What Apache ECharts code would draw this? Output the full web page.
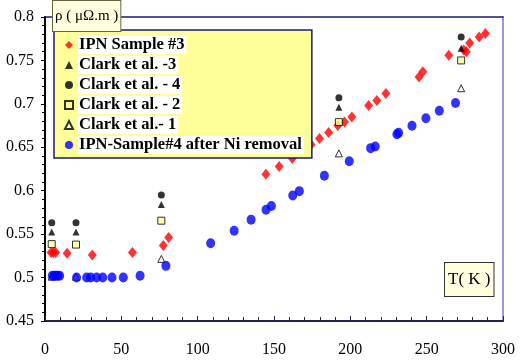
<!DOCTYPE html>
<html><head><meta charset="utf-8">
<script src="https://cdn.jsdelivr.net/npm/echarts@6/dist/echarts.min.js"></script>
<style>html,body{margin:0;padding:0;background:#fff}#c{width:524px;height:364px}</style>
</head><body><div id="c"></div>
<script>
// Series names
var seriesNames = ['IPN Sample #3', 'Clark et al. -3', 'Clark et al. - 4', 'Clark et al. - 2', 'Clark et al.- 1', 'IPN-Sample#4 after Ni removal'];
// IPN Sample #3 (red diamonds): [T, rho]
var ipn3 = [[4,0.529],[5.5,0.529],[7,0.529],[14.5,0.528],[31,0.526],[57.3,0.529],[77.5,0.537],[81,0.546],
  [144.7,0.619],[153.4,0.628],[162,0.637],[174.3,0.653],[179.8,0.66],[185.8,0.667],[191.8,0.675],[196.2,0.679],
  [201,0.685],[212,0.698],[217.4,0.704],[223.3,0.712],[245,0.731],[247.5,0.737],[264.5,0.756],[274.3,0.762],
  [276,0.760],[278.2,0.770],[284.4,0.777],[288.5,0.781]];
// Clark et al. series, at common temperatures
var clarkT = [4.4, 20.3, 76.2, 192.5, 272.6];
var clark3 = [0.5525, 0.5525, 0.584, 0.696, 0.764];
var clark4 = [0.563, 0.563, 0.595, 0.707, 0.777];
var clark2 = [0.5385, 0.538, 0.5655, 0.679, 0.750];
var clark1 = [0.501, 0.501, 0.5215, 0.643, 0.718];
// IPN-Sample#4 after Ni removal (blue circles)
var ipn4 = [[4.8,0.502],[6,0.502],[7.2,0.502],[8.4,0.502],[9.6,0.502],[20.7,0.5],[27.3,0.5],[29.9,0.5],
  [33.8,0.5],[37.8,0.5],[43.9,0.5],[51.3,0.5],[62.3,0.502],[79.2,0.5135],[108.5,0.5395],[123.9,0.554],
  [135,0.5667],[144.8,0.578],[148.3,0.5825],[162.3,0.5945],[166.6,0.5995],[183,0.6172],[199.3,0.634],
  [213.3,0.649],[216.3,0.651],[230.5,0.665],[231.6,0.6666],[240.4,0.6747],[249.5,0.6835],[258.3,0.692],[268.9,0.701]];
// Axis labels
var yAxisTitle = 'ρ ( μΩ.m )';
var xAxisTitle = 'T( K )';

function pair(ts, vs){ return ts.map(function(t,i){ return [t, vs[i]]; }); }

var serif = 'Liberation Serif';
var chart = echarts.init(document.getElementById('c'), null, {renderer:'canvas'});
var opt = {
  animation: false,
  grid: {left:45, right:21, top:17, bottom:43, containLabel:false},
  xAxis: [{
    type:'value', min:0, max:300, interval:50, splitNumber:5,
    axisLine:{show:true, onZero:false, lineStyle:{color:'#22224a', width:2}},
    axisTick:{show:true, inside:true, length:5, lineStyle:{color:'#22224a'}},
    minorTick:{show:true, splitNumber:5, length:4, lineStyle:{color:'#22224a'}},
    axisLabel:{color:'#000', fontFamily:serif, fontSize:16, margin:21},
    splitLine:{show:false}
  },{
    type:'value', min:0, max:300, position:'top',
    axisLine:{show:true, onZero:false, lineStyle:{color:'#1a1a7a', width:1.5}},
    axisTick:{show:false}, axisLabel:{show:false}, splitLine:{show:false}
  }],
  yAxis: [{
    type:'value', min:0.45, max:0.8, interval:0.05,
    axisLine:{show:true, onZero:false, lineStyle:{color:'#000', width:2}},
    axisTick:{show:true, inside:false, length:4, lineStyle:{color:'#000'}},
    minorTick:{show:true, splitNumber:5, length:3, lineStyle:{color:'#000'}},
    axisLabel:{color:'#000', fontFamily:serif, fontSize:16, margin:11,
      formatter:function(v){ return String(parseFloat(v.toFixed(2))); }},
    splitLine:{show:false}
  },{
    type:'value', min:0.45, max:0.8, position:'right',
    axisLine:{show:true, onZero:false, lineStyle:{color:'#9a9ad0', width:2}},
    axisTick:{show:false}, axisLabel:{show:false}, splitLine:{show:false}
  }],
  legend: {
    orient:'vertical', left:54, top:30,
    data: seriesNames,
    backgroundColor:'#ffff99', borderColor:'#1a1a7a', borderWidth:1.5,
    padding:[6,8,4,10], itemGap:2, itemWidth:8, itemHeight:8,
    textStyle:{fontFamily:serif, fontSize:16.5, fontWeight:'bold', color:'#000', lineHeight:18,
      backgroundColor:'#fff', padding:[0,2,0,1]}
  },
  series: [
    {name:seriesNames[0], type:'scatter', data:ipn3, symbol:'diamond', symbolSize:[9,11], itemStyle:{color:'#ff0000'}},
    {name:seriesNames[1], type:'scatter', data:pair(clarkT,clark3), symbol:'triangle', symbolSize:7, itemStyle:{color:'#000'}},
    {name:seriesNames[2], type:'scatter', data:pair(clarkT,clark4), symbol:'circle', symbolSize:7, itemStyle:{color:'#000'}},
    {name:seriesNames[3], type:'scatter', data:pair(clarkT,clark2), symbol:'rect', symbolSize:7, itemStyle:{color:'#ffff99', borderColor:'#000', borderWidth:1}},
    {name:seriesNames[4], type:'scatter', data:pair(clarkT,clark1), symbol:'triangle', symbolSize:7, itemStyle:{color:'#fff', borderColor:'#000', borderWidth:1}},
    {name:seriesNames[5], type:'scatter', data:ipn4, symbol:'circle', symbolSize:[9,10], itemStyle:{color:'#0000ff'}}
  ],
  graphic: [
    {type:'text', left:52, top:0, z:100, style:{text:yAxisTitle, font:'15px "Liberation Serif"', fill:'#000',
      backgroundColor:'#ffffe0', borderColor:'#666644', borderWidth:1, padding:[8,2,7,2]}},
    {type:'text', left:444, top:262, z:100, style:{text:xAxisTitle, font:'17px "Liberation Serif"', fill:'#000',
      backgroundColor:'#ffffe0', borderColor:'#333', borderWidth:1, padding:[8,3,8,3]}}
  ]
};
chart.setOption(opt);
</script></body></html>
